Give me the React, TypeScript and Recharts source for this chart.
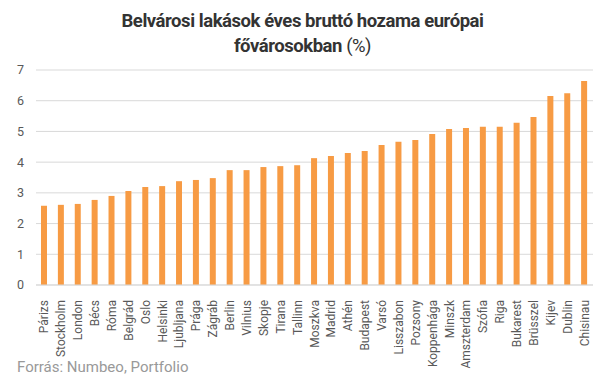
import React from 'react';
import { BarChart, Bar, XAxis, YAxis, CartesianGrid } from 'recharts';

const cities = [
    'Párizs', 'Stockholm', 'London', 'Bécs', 'Róma', 'Belgrád', 'Oslo', 'Helsinki', 'Ljubljana', 'Prága',
    'Zágráb', 'Berlin', 'Vilnius', 'Skopje', 'Tirana', 'Tallinn', 'Moszkva', 'Madrid', 'Athén', 'Budapest',
    'Varsó', 'Lisszabon', 'Pozsony', 'Koppenhága', 'Minszk', 'Amszterdam', 'Szófia', 'Riga', 'Bukarest',
    'Brüsszel', 'Kijev', 'Dublin', 'Chisinau',
];
const yields = [
    2.58, 2.61, 2.64, 2.77, 2.9, 3.06, 3.19, 3.22, 3.38, 3.42,
    3.48, 3.74, 3.74, 3.84, 3.87, 3.9, 4.13, 4.2, 4.3, 4.36,
    4.56, 4.66, 4.72, 4.92, 5.08, 5.11, 5.15, 5.15, 5.28,
    5.47, 6.15, 6.24, 6.64,
];
const yTicks = [0, 1, 2, 3, 4, 5, 6, 7];

const data = cities.map((name, i) => ({ name, value: yields[i] }));

const font = 'Roboto, "Noto Sans", sans-serif';

const CityTick = (props: any) => {
    const { x, y, payload } = props;
    return (
        <text
            x={0}
            y={0}
            transform={`translate(${x + 4},${y + 7}) rotate(-90)`}
            textAnchor="end"
            fontSize={12}
            fontFamily={font}
            fill="#595959"
        >
            {payload.value}
        </text>
    );
};

const App = () => {
    return (
        <div style={{ position: 'absolute', left: 0, top: 0, width: 605, height: 378, background: '#fff', fontFamily: font }}>
            <div
                style={{
                    position: 'absolute', left: 0, top: 9, width: 605, textAlign: 'center',
                    fontSize: 18.5, fontWeight: 700, color: '#333', lineHeight: '25px', letterSpacing: -0.45,
                }}
            >
                Belvárosi lakások éves bruttó hozama európai
                <br />
                fővárosokban <span style={{ fontWeight: 400 }}>(%)</span>
            </div>
            <BarChart width={605} height={378} data={data} margin={{ top: 70, right: 12, left: 0, bottom: 0 }}>
                <CartesianGrid vertical={false} stroke="#d9d9d9" />
                <XAxis
                    dataKey="name"
                    interval={0}
                    height={93}
                    tick={<CityTick />}
                    tickLine={false}
                    axisLine={{ stroke: '#d9d9d9' }}
                />
                <YAxis
                    width={36}
                    domain={[0, 7]}
                    ticks={yTicks}
                    tickLine={false}
                    axisLine={false}
                    tick={{ fontSize: 12.5, fill: '#595959', fontFamily: font, dx: -4 }}
                />
                <Bar dataKey="value" fill="#f79b44" barSize={6} isAnimationActive={false} />
            </BarChart>
            <div style={{ position: 'absolute', left: 17, top: 358, fontSize: 15, color: '#999' }}>
                Forrás: Numbeo, Portfolio
            </div>
        </div>
    );
};

export default App;
